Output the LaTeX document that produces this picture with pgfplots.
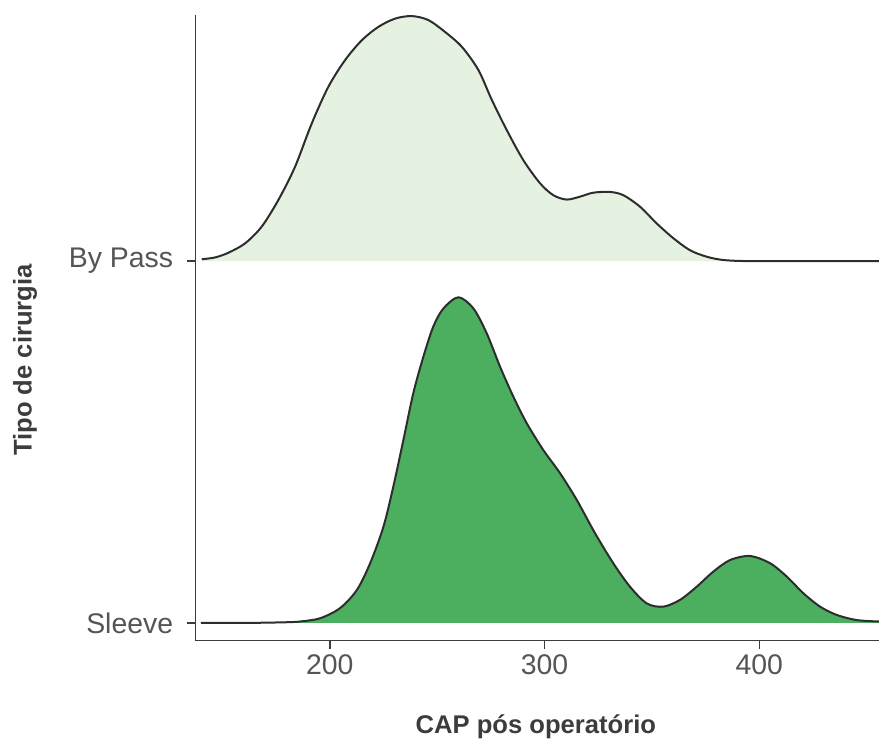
\documentclass[border=0pt]{standalone}
\usepackage{pgfplots}
\pgfplotsset{compat=1.18}
\usepgfplotslibrary{fillbetween}
\usepackage{fontspec}
\setmainfont{Liberation Sans}
\definecolor{bypassFill}{RGB}{229,242,225}
\definecolor{sleeveFill}{RGB}{76,175,96}
\definecolor{ridgeLine}{RGB}{45,45,45}
\definecolor{axisGray}{RGB}{60,60,60}
\definecolor{tickGray}{RGB}{85,85,85}
\definecolor{titleGray}{RGB}{60,60,60}

% density curves, baseline at 2 (By Pass) and 1 (Sleeve)
\pgfplotstableread{
x y
140.4 2.005
146.6 2.010
152.8 2.023
160.6 2.049
168.3 2.095
176.1 2.169
183.8 2.260
191.6 2.380
199.3 2.481
207.1 2.555
214.9 2.610
222.6 2.647
230.4 2.670
238.2 2.677
245.9 2.666
253.7 2.633
261.5 2.592
269.2 2.528
275.4 2.446
282.4 2.362
290.1 2.279
297.9 2.215
304.1 2.182
310.3 2.170
316.5 2.178
322.7 2.189
330.5 2.191
336.7 2.182
344.5 2.150
352.2 2.104
360.0 2.063
367.7 2.030
375.5 2.012
383.2 2.003
394.1 2.000
420.0 2.000
455.7 2.000
}\bypass

\pgfplotstableread{
x y
140.0 1.000
160.0 1.000
172.0 1.001
180.0 1.002
186.2 1.004
195.5 1.013
204.8 1.041
212.6 1.091
218.8 1.165
225.0 1.266
229.6 1.377
234.3 1.506
238.9 1.635
243.6 1.736
248.2 1.819
252.9 1.869
259.9 1.900
266.9 1.869
273.1 1.800
279.3 1.708
285.5 1.625
291.7 1.552
299.4 1.478
307.2 1.414
315.0 1.340
323.5 1.248
332.0 1.165
339.8 1.100
347.6 1.054
355.3 1.045
363.1 1.064
370.8 1.100
378.6 1.142
386.4 1.174
395.7 1.185
405.0 1.165
412.8 1.128
420.5 1.082
428.3 1.045
436.1 1.022
445.3 1.008
455.7 1.004
}\sleeve

\begin{document}
\begin{tikzpicture}
\begin{axis}[
    at={(0,0)}, anchor=south west,
    scale only axis,
    width=341.75pt, height=312.85pt,
    xmin=137.5, xmax=455.7,
    ymin=0.951, ymax=2.68,
    axis x line*=bottom, axis y line*=left,
    axis line style={axisGray, line width=0.75pt},
    tick align=outside, major tick length=4pt,
    tick style={axisGray, line width=0.75pt},
    xtick={200,300,400},
    ytick={1,2}, yticklabels={Sleeve, By Pass},
    /pgf/number format/assume math mode=true,
    tick label style={font=\fontsize{14.2}{16}\selectfont, text=tickGray},
    yticklabel style={inner sep=0pt, xshift=-7pt},
    xticklabel style={inner sep=0pt, yshift=-3pt},
    xlabel={CAP pós operatório},
    ylabel={Tipo de cirurgia},
    label style={font=\fontsize{12.8}{15}\selectfont\bfseries, text=titleGray},
    xlabel style={at={(axis description cs:0.498,-0.138)}, anchor=center},
    ylabel style={at={(axis description cs:-0.2494,0.4486)}, anchor=center},
    clip=false,
]
% baselines for the fills
\addplot[draw=none, name path=bpbase, forget plot] coordinates {(140.4,2) (455.7,2)};
\addplot[draw=none, name path=slbase, forget plot] coordinates {(140,1) (455.7,1)};
% By Pass
\addplot[draw=none, name path=bp, smooth] table {\bypass};
\addplot[bypassFill, draw=none] fill between[of=bp and bpbase];
\addplot[ridgeLine, line width=1pt, smooth] table {\bypass};
% Sleeve
\addplot[draw=none, name path=sl, smooth] table {\sleeve};
\addplot[sleeveFill, draw=none] fill between[of=sl and slbase];
\addplot[ridgeLine, line width=1pt, smooth] table {\sleeve};
\end{axis}
\pgfresetboundingbox
\path (-97.75pt,-51.15pt) rectangle (341.75pt,320.35pt);
\end{tikzpicture}
\end{document}
